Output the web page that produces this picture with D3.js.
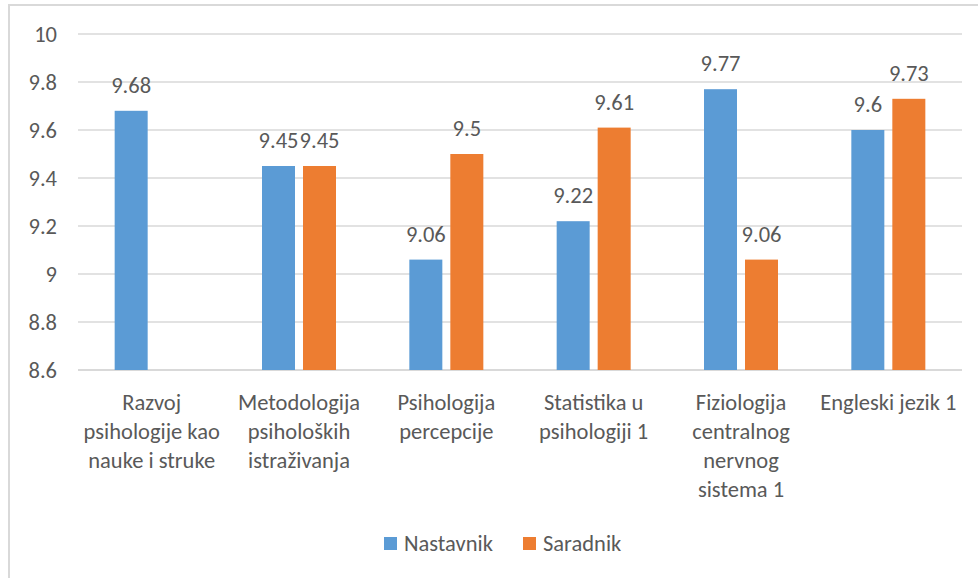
<!DOCTYPE html>
<html>
<head>
<meta charset="utf-8">
<script src="https://cdn.jsdelivr.net/npm/d3@7"></script>
<style>
  html, body { margin: 0; padding: 0; background: #fff; }
  svg { display: block; }
</style>
</head>
<body>
<div id="chart"></div>
<script>
// podaci
const categories = [
  ["Razvoj", "psihologije kao", "nauke i struke"],
  ["Metodologija", "psiholoških", "istraživanja"],
  ["Psihologija", "percepcije"],
  ["Statistika u", "psihologiji 1"],
  ["Fiziologija", "centralnog", "nervnog", "sistema 1"],
  ["Engleski jezik 1"]
];
const seriesNames = ["Nastavnik", "Saradnik"];
const nastavnik = [9.68, 9.45, 9.06, 9.22, 9.77, 9.6];
const saradnik = [null, 9.45, 9.5, 9.61, 9.06, 9.73];
const yTicks = [8.6, 8.8, 9, 9.2, 9.4, 9.6, 9.8, 10];
const colors = ["#5B9BD5", "#ED7D31"];

const W = 978, H = 578;
const font = "Carlito, Calibri, Lato, sans-serif";
const fs = 22.5; // veličina fonta

const svg = d3.select("#chart").append("svg")
  .attr("width", W).attr("height", H);

// okvir grafikona
svg.append("rect")
  .attr("x", 9).attr("y", 5)
  .attr("width", W + 10).attr("height", H + 10)
  .attr("fill", "none")
  .attr("stroke", "#d9d9d9")
  .attr("stroke-width", 2);

const plotLeft = 78, plotRight = 962, plotTop = 34, plotBottom = 370;

const x0 = d3.scaleBand()
  .domain(d3.range(categories.length))
  .range([plotLeft, plotRight]);

const x1 = d3.scaleBand()
  .domain(seriesNames)
  .range([-37, 37])
  .paddingInner(8 / 41);

const y = d3.scaleLinear().domain([8.6, 10]).range([plotBottom, plotTop]);

// mreža
svg.selectAll(".grid")
  .data(yTicks)
  .enter().append("line")
  .attr("x1", plotLeft).attr("x2", plotRight)
  .attr("y1", d => y(d)).attr("y2", d => y(d))
  .attr("stroke", "#d9d9d9")
  .attr("stroke-width", d => d === 8.6 ? 2 : 1.5);

// y osa
const yAxis = svg.append("g")
  .attr("transform", `translate(${plotLeft - 21},0)`)
  .call(d3.axisLeft(y).tickValues(yTicks).tickSize(0).tickPadding(0).tickFormat(d3.format("")));
yAxis.select(".domain").remove();
yAxis.selectAll("text")
  .attr("font-family", font)
  .attr("font-size", fs)
  .attr("fill", "#595959");

// stubići
const rows = categories.map((c, i) => ({ i, values: [nastavnik[i], saradnik[i]] }));

const groups = svg.selectAll(".grp")
  .data(rows)
  .enter().append("g")
  .attr("transform", d => `translate(${x0(d.i) + x0.bandwidth() / 2},0)`);

const bars = groups.selectAll(".bar")
  .data(d => d.values.map((v, k) => ({ v, k })).filter(e => e.v != null))
  .enter();

bars.append("rect")
  .attr("x", d => x1(seriesNames[d.k]))
  .attr("width", x1.bandwidth())
  .attr("y", d => y(d.v))
  .attr("height", d => y(8.6) - y(d.v))
  .attr("fill", d => colors[d.k]);

bars.append("text")
  .attr("x", d => x1(seriesNames[d.k]) + x1.bandwidth() / 2)
  .attr("y", d => y(d.v) - 18)
  .attr("text-anchor", "middle")
  .attr("font-family", font)
  .attr("font-size", fs)
  .attr("fill", "#595959")
  .text(d => d.v);

// nazivi kategorija
const catText = groups.append("text")
  .attr("text-anchor", "middle")
  .attr("font-family", font)
  .attr("font-size", fs)
  .attr("fill", "#595959");
catText.selectAll("tspan")
  .data((d) => categories[d.i])
  .enter().append("tspan")
  .attr("x", 0)
  .attr("y", (d, j) => 410 + j * 29)
  .text(d => d);

// legenda
const legend = svg.append("g");
const legendX = [384, 523];
seriesNames.forEach((name, k) => {
  legend.append("rect")
    .attr("x", legendX[k]).attr("y", 537)
    .attr("width", 13).attr("height", 13)
    .attr("fill", colors[k]);
  legend.append("text")
    .attr("x", legendX[k] + 20).attr("y", 551)
    .attr("font-family", font)
    .attr("font-size", fs)
    .attr("fill", "#595959")
    .text(name);
});
</script>
</body>
</html>
